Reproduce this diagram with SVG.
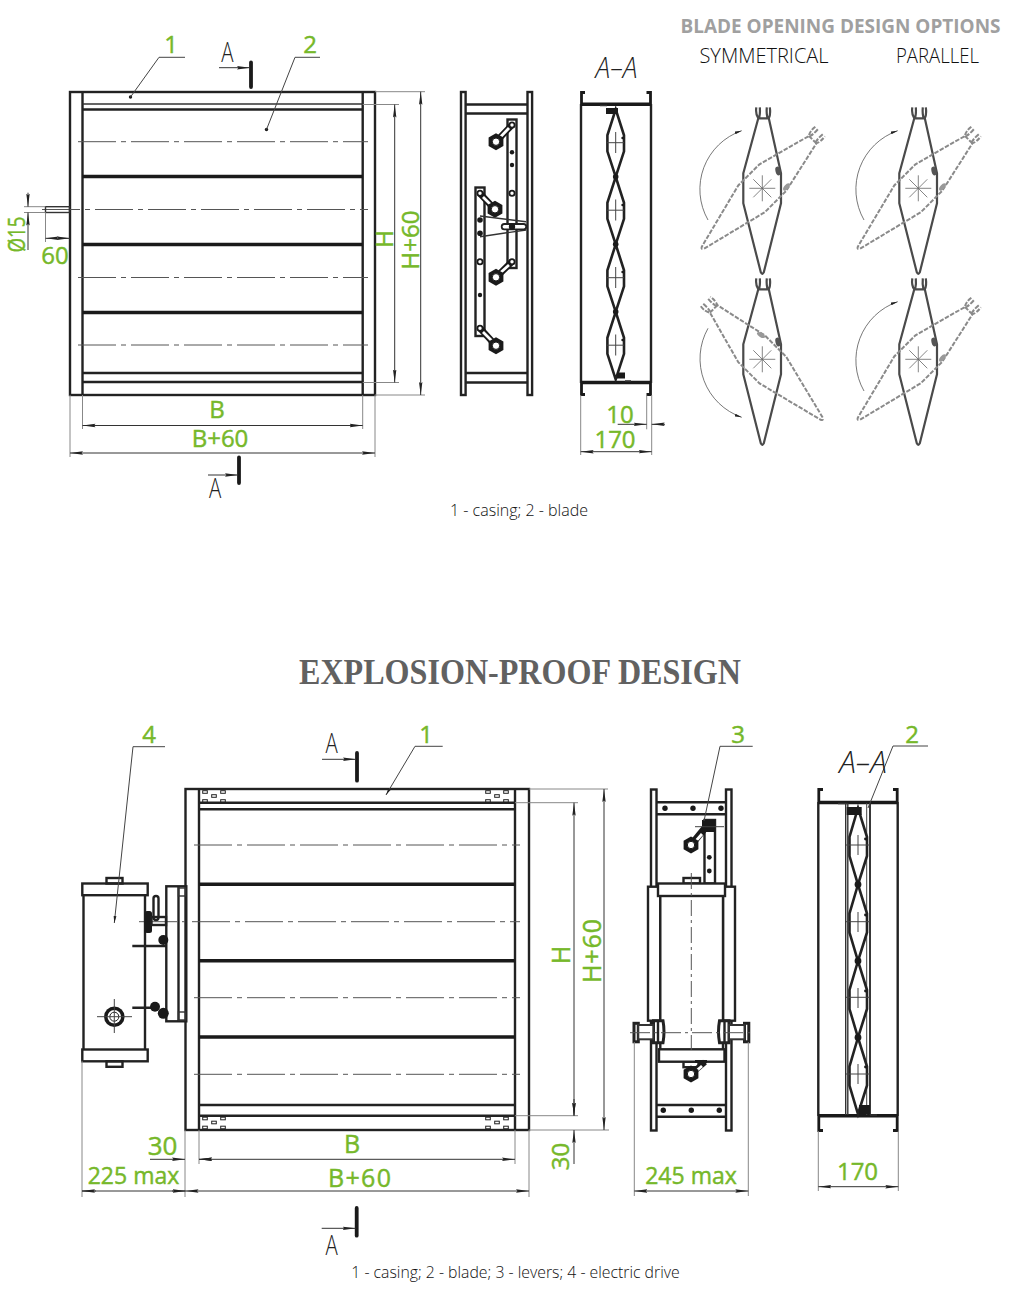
<svg xmlns="http://www.w3.org/2000/svg" width="1011" height="1297" viewBox="0 0 1011 1297">
<style>
text{font-family:"Open Sans","Noto Sans",sans-serif}
.g{fill:#76b82a;stroke:#76b82a;stroke-width:.45;font-size:24px;text-anchor:middle}
.sec{fill:#222;font-size:30px;font-weight:300;text-anchor:middle}
.cap{fill:#111;font-size:15.8px;font-weight:300;text-anchor:middle}
.hd{fill:#111;font-size:20px;font-weight:300;text-anchor:middle}
.k,.k2,.k3,.t,.d,.c,.cl{fill:none;stroke-linecap:butt}
.k{stroke:#222;stroke-width:2.4}
.k2{stroke:#1a1a1a;stroke-width:3.6}
.k3{stroke:#333;stroke-width:1.4}
.t{stroke:#444;stroke-width:1}
.d{stroke:#333;stroke-width:1}
.e{stroke:#888;stroke-width:1;fill:none}
.cl{stroke:#555;stroke-width:1;stroke-dasharray:38 5 5 5}
.f{fill:#1a1a1a;stroke:none}
.w{fill:#fff;stroke:#1a1a1a;stroke-width:1.8}
.bl{fill:none;stroke:#4a4a4a;stroke-width:2.2;stroke-linejoin:round}
.bd{fill:none;stroke:#8a8a8a;stroke-width:2;stroke-dasharray:4.5 1.5}
.ar{fill:none;stroke:#555;stroke-width:.8;marker-end:url(#sm)}
.bar{stroke:#1a1a1a;stroke-width:3.8;stroke-linecap:round;fill:none}
.both{marker-start:url(#ah);marker-end:url(#ah)}
.end{marker-end:url(#ah)}
.arm{stroke:#1a1a1a;stroke-width:6.500;fill:none}
.armw{stroke:#fff;stroke-width:2.800;fill:none}
.lb{fill:#fff;stroke:#1a1a1a;stroke-width:2.600;stroke-linejoin:round}
.wf{fill:#fff}
</style>
<defs>
<marker id="ah" markerUnits="userSpaceOnUse" markerWidth="14" markerHeight="5" refX="13" refY="2.5" orient="auto-start-reverse"><path d="M0,.8 L13,2.5 L0,4.2 L1.500,2.5Z" fill="#222"/></marker>
<marker id="sm" markerUnits="userSpaceOnUse" markerWidth="8" markerHeight="4" refX="7" refY="2" orient="auto"><path d="M0,.6 L7,2 L0,3.4Z" fill="#222"/></marker>
<path id="blade" d="M-6,-81 Q-7,-74 -4,-70 L-19,-15 L-19,15 L-1.500,84 Q0,87 1.500,84 L18.700,15 L18.700,-15 L6.500,-70 Q8.500,-74 7.500,-81 M4.500,-81 Q4,-75 5,-71 M-2.500,-81 Q-2,-75 -3,-71 M-4,-70 L6.500,-70"/>
<g id="star"><path d="M-13,0H13M0,-13V13M-9,-9L9,9M-9,9L9,-9" stroke="#666" stroke-width=".8"/></g>
<path id="lobe" d="M0,0 L-8.300,26 V42 L0,67.500 L8.300,42 V26Z"/>
<path id="lobe2" d="M0,0 L-8.500,29 V48 L0,76.500 L9,48 V29Z"/>
<g id="hex"><polygon points="0,-8.500 7.400,-4.300 7.400,4.300 0,8.500 -7.400,4.300 -7.400,-4.300" fill="#1a1a1a"/><circle r="3.700" fill="#fff" stroke="#1a1a1a"/></g>
<g id="rv"><rect x="-2.300" y="-1.300" width="4.600" height="2.600" fill="none" stroke="#222" stroke-width="1"/></g>
<g id="rivets"><use href="#rv" x="0" y="0"/><use href="#rv" x="18" y="0"/><use href="#rv" x="9" y="4"/><use href="#rv" x="0" y="9"/><use href="#rv" x="18" y="9"/></g>
</defs>
<rect width="1011" height="1297" fill="#fff"/>

<g id="casing-top">
<rect class="k" x="70" y="92" width="305" height="303"/>
<path class="k" d="M82.500,92V395M362.700,92V395"/>
<path class="k3" d="M82.500,104H362.700"/>
<path class="k" d="M82.500,109.500H362.700"/>
<path class="k2" d="M82.500,176.500H362.700M82.500,244.500H362.700M82.500,312.500H362.700"/>
<path class="k" d="M82.500,373H362.700"/>
<path class="k" d="M82.500,382H362.700"/>
<path class="cl" d="M78,141.700H368M42,209.500H368M78,277.500H368M78,345H368"/>
<rect class="k3" x="45.500" y="206.700" width="24" height="5.800"/>
<circle class="f" cx="130.500" cy="97" r="1.700"/>
<circle class="f" cx="266.500" cy="129.500" r="1.700"/>
</g>

<g id="lever-view-top">
<rect class="k" x="461" y="92" width="4.600" height="303"/>
<rect class="k" x="527.500" y="92" width="4.600" height="303"/>
<path class="k" d="M465.600,104.500H527.500M465.600,113.500H527.500M465.600,373H527.500M465.600,382.500H527.500"/>
<rect class="k" x="507.500" y="119.500" width="9" height="148.500"/>
<rect class="k" x="475.500" y="187.500" width="9" height="148.500"/>
<path class="arm" d="M512,125L496,141.700M480,193.500L495,209.500M512,261.700L496,277.300M480,328.300L496,345.700"/>
<path class="armw" d="M509,128L499,138.500M483,197L492,206M509,265L499,274M483,332L493,342"/>
<use href="#hex" x="496" y="141.700"/><use href="#hex" x="495" y="209.300"/><use href="#hex" x="496" y="277.300"/><use href="#hex" x="496" y="345.700"/>
<g class="w"><circle cx="512" cy="125" r="2.600"/><circle cx="512" cy="193.300" r="2.600"/><circle cx="512" cy="261.700" r="2.600"/><circle cx="480" cy="193.300" r="2.600"/><circle cx="480" cy="261.700" r="2.600"/><circle cx="480" cy="328.300" r="2.600"/></g>
<g class="f"><circle cx="512" cy="152.300" r="2.200"/><circle cx="512" cy="165" r="2.200"/><circle cx="480" cy="295" r="2.200"/><circle cx="480" cy="220" r="2.800"/><circle cx="480" cy="233.300" r="2.800"/></g>
<path class="k3" d="M480,216L526,221.700M480,236.700L526,230"/>
<rect class="k" x="501.700" y="224" width="24.500" height="5.300" rx="2.600" style="fill:#fff;stroke-width:1.800"/>
<circle class="f" cx="512" cy="226.700" r="3.200"/>
</g>

<g id="section-top">
<path class="k" d="M581,104V383M651,104V383"/>
<path class="k2" d="M581,104.300H651M581,382.500H651"/>
<path class="k2" d="M585,92.500H581.500V104M646.500,92.500H650.500V104M585,394.500H581.500V383M646.500,394.500H650.500V383" style="stroke-width:2.800"/>
<g class="k" style="stroke-width:2.600"><use href="#lobe" x="615.700" y="109.300"/><use href="#lobe" x="615.700" y="176.800"/><use href="#lobe" x="615.700" y="244.300"/><use href="#lobe" x="615.700" y="311.800"/></g>
<path class="t" d="M607,142.700H624M615.700,132V153M607,210.200H624M615.700,199.500V220.500M607,277.700H624M615.700,267V288M607,345.200H624M615.700,334.500V355.500"/>
<rect class="f" x="606" y="108" width="12" height="6"/>
<rect class="f" x="617" y="372.500" width="8" height="6"/>
<path class="k3" d="M600,105.500H607M625,381H631"/>
<circle class="f" cx="615.700" cy="176.800" r="2.800"/><circle class="f" cx="615.700" cy="244.300" r="2.800"/><circle class="f" cx="615.700" cy="311.800" r="2.800"/>
<circle class="f" cx="622.500" cy="138" r="1.200"/><circle class="f" cx="622.500" cy="205" r="1.200"/><circle class="f" cx="622.500" cy="272" r="1.200"/><circle class="f" cx="622.500" cy="340" r="1.200"/>
</g>

<g id="option-symmetrical-1">
<use class="bl" href="#blade" x="762.300" y="188.300"/>
<use class="bd" href="#blade" transform="translate(762.300,188.300) rotate(45)"/>
<use href="#star" x="762.300" y="188.300"/>
<ellipse cx="778" cy="171" rx="2.500" ry="4.500" fill="#555" transform="rotate(-15 778 171)"/>
<ellipse cx="786.500" cy="187" rx="2.200" ry="4.500" fill="#999" transform="rotate(40 786.500 187)"/>
<path class="ar" d="M708,220A62,62 0 0 1 741.700,130.700"/>
</g>
<g id="option-parallel-1">
<use class="bl" href="#blade" x="918.300" y="188.300"/>
<use class="bd" href="#blade" transform="translate(918.300,188.300) rotate(45)"/>
<use href="#star" x="918.300" y="188.300"/>
<ellipse cx="934" cy="171" rx="2.500" ry="4.500" fill="#555" transform="rotate(-15 934 171)"/>
<ellipse cx="942.500" cy="187" rx="2.200" ry="4.500" fill="#999" transform="rotate(40 942.500 187)"/>
<path class="ar" d="M864,220A62,62 0 0 1 897.700,130.700"/>
</g>
<g id="option-symmetrical-2">
<use class="bl" href="#blade" x="762.300" y="359.300"/>
<use class="bd" href="#blade" transform="translate(762.300,359.300) rotate(-45)"/>
<use href="#star" x="762.300" y="359.300"/>
<ellipse cx="778" cy="342" rx="2.500" ry="4.500" fill="#555" transform="rotate(-15 778 342)"/>
<ellipse cx="761" cy="335" rx="2.200" ry="4.500" fill="#999" transform="rotate(-60 761 335)"/>
<path class="ar" d="M708,328.300A62,62 0 0 0 741.700,417.300"/>
</g>
<g id="option-parallel-2">
<use class="bl" href="#blade" x="918.300" y="359.300"/>
<use class="bd" href="#blade" transform="translate(918.300,359.300) rotate(45)"/>
<use href="#star" x="918.300" y="359.300"/>
<ellipse cx="934" cy="342" rx="2.500" ry="4.500" fill="#555" transform="rotate(-15 934 342)"/>
<ellipse cx="942.500" cy="358" rx="2.200" ry="4.500" fill="#999" transform="rotate(40 942.500 358)"/>
<path class="ar" d="M864,391A62,62 0 0 1 897.700,301.700"/>
</g>

<g id="casing-explosion-proof">
<rect class="k" x="185.500" y="789" width="343.500" height="341"/>
<path class="k" d="M199,789V1130M515,789V1130"/>
<path class="k" d="M199,802.700H515M199,809.300H515"/>
<path class="k2" d="M199,884.200H515M199,960.700H515M199,1037H515"/>
<path class="k" d="M199,1105H515M199,1115.700H515"/>
<path class="cl" d="M194,845H520M139,921.700H520M194,997.700H520M194,1074.300H520"/>
<use href="#rivets" x="205" y="792"/><use href="#rivets" x="488" y="792"/><use href="#rivets" x="205" y="1118.500"/><use href="#rivets" x="488" y="1118.500"/>
</g>

<g id="electric-drive-front">
<rect class="k" x="82.300" y="883.500" width="65.400" height="11.700"/>
<rect class="k" x="82.300" y="1049.500" width="65.400" height="11.800"/>
<path class="k" d="M83.500,895.200V1049.500M145,895.200V1049.500"/>
<rect class="k" x="106.500" y="878" width="16" height="5.500"/>
<rect class="k" x="106.500" y="1061.300" width="16" height="5.500"/>
<rect class="k" x="166.300" y="886.300" width="20" height="135"/>
<path class="k" d="M178.500,886.300V1021.300"/>
<rect class="k3" x="178.500" y="888" width="7" height="8"/><rect class="k3" x="178.500" y="1012" width="7" height="8"/>
<rect class="k" x="153.500" y="896" width="5" height="24" rx="2.500"/>
<rect class="f" x="144.500" y="911" width="7.500" height="22" rx="2.500"/>
<rect class="k" x="151.500" y="917" width="14.500" height="8"/>
<path class="k" d="M132.300,946H166M132.300,1007.700H155"/>
<circle class="f" cx="163.300" cy="940" r="5"/><circle class="f" cx="155" cy="1006.700" r="5"/><circle class="f" cx="163.300" cy="1013.300" r="5.500"/>
<circle class="f" cx="114.300" cy="1016.700" r="10.300"/><circle cx="114.300" cy="1016.700" r="6.800" fill="#fff"/><circle cx="114.300" cy="1016.700" r="4.500" fill="none" stroke="#222"/>
<path class="t" d="M97,1016.700H132M114.300,999V1033"/>
</g>

<g id="electric-drive-side">
<rect class="k" x="651" y="789.500" width="5.500" height="341"/>
<rect class="k" x="726" y="789.500" width="5.500" height="341"/>
<path class="k" d="M657,802.300H726M657,814.300H726M657,1105H726M657,1116.700H726"/>
<g class="f"><circle cx="665" cy="808.300" r="2.700"/><circle cx="693" cy="808.300" r="2.700"/><circle cx="721" cy="808.300" r="2.700"/><circle cx="663.300" cy="1110.300" r="2.700"/><circle cx="691.300" cy="1110.300" r="2.700"/><circle cx="719.300" cy="1110.300" r="2.700"/></g>
<rect class="k" x="704.500" y="820" width="10.500" height="63.500"/>
<rect class="f" x="702" y="820" width="13" height="12"/>
<path class="arm" d="M705,828L691,845" style="stroke-width:7"/><path class="armw" d="M702,834L695,842"/>
<use href="#hex" x="691" y="845"/>
<circle class="f" cx="709.300" cy="857.300" r="2.400"/><circle class="f" cx="709.300" cy="871" r="2.400"/>
<path class="t" d="M695,826.700H724"/>
<rect class="k" x="683.500" y="878" width="16.500" height="5.500"/>
<rect class="k" x="683.500" y="1061.700" width="15" height="5.500"/>
<rect class="k" x="648" y="886.700" width="12.300" height="134" style="fill:#fff"/>
<rect class="k" x="723" y="886.700" width="12" height="134" style="fill:#fff"/>
<rect x="660.300" y="896" width="62.700" height="153.300" fill="#fff"/>
<path class="k" d="M660.300,896V1049.300M723,896V1049.300"/>
<rect class="k" x="658" y="883.500" width="67" height="12.500" style="fill:#fff"/>
<rect class="k" x="659" y="1049.300" width="65.500" height="12.400" style="fill:#fff"/>
<path class="arm" d="M705,1062L691,1074" style="stroke-width:6"/><path class="armw" d="M702,1066L695,1072"/>
<rect class="f" x="695" y="1060" width="12" height="3"/>
<use href="#hex" x="691" y="1074"/>
<path class="cl" d="M691.300,873V1050" style="stroke-dasharray:16 4 3 4"/>
<path class="k" d="M653.500,1020.700H663Q665,1031.700 663,1042.700H653.500Z" style="fill:#fff;stroke-width:3"/><path class="k" d="M729,1020.700H719.500Q717.500,1031.700 719.500,1042.700H729Z" style="fill:#fff;stroke-width:3"/>
<path class="k" d="M658,1021V1043M724.500,1021V1043"/>
<rect class="k" x="634" y="1023.300" width="4.300" height="18.500" style="stroke-width:3"/><rect class="k3" x="638.300" y="1025" width="15" height="14.300" style="fill:#fff;stroke-width:2"/>
<rect class="k" x="744.500" y="1023.300" width="4.300" height="18.500" style="stroke-width:3"/><rect class="k3" x="729" y="1025" width="15.500" height="14.300" style="fill:#fff;stroke-width:2"/>
<path class="cl" d="M630,1032.700H752" style="stroke-dasharray:20 4 3 4"/>
</g>

<g id="section-explosion-proof">
<path class="k" d="M818.300,802V1116M897.700,802V1116"/>
<path class="k2" d="M818.300,802.500H897.700M818.300,1115.700H897.700"/>
<path class="k2" d="M823,789.500H818.800V802M893,789.500H897.200V802M823,1130.500H818.800V1116M893,1130.500H897.200V1116" style="stroke-width:2.800"/>
<path class="k3" d="M845.700,803V1115M847.800,803V1115"/>
<path class="k" d="M870,803V1115" style="stroke-width:1.800"/>
<path class="t" d="M866.700,803V1115"/>
<g class="k" style="stroke-width:2.600"><use href="#lobe2" x="858" y="808"/><use href="#lobe2" x="858" y="884.500"/><use href="#lobe2" x="858" y="961"/><use href="#lobe2" x="858" y="1037.500"/></g>
<path class="t" d="M846,845H870M846,921.700H870M846,997.300H870M846,1074H870M858,835V855M858,912V932M858,988V1008M858,1064V1084"/>
<rect class="f" x="846.700" y="807" width="15" height="8"/><rect class="f" x="859" y="1105" width="11" height="9"/>
<path class="k3" d="M838,803.500H847M870,1115H877"/>
<circle class="f" cx="858" cy="884.500" r="3.400"/><circle class="f" cx="858" cy="961" r="3.400"/><circle class="f" cx="858" cy="1037.500" r="3.400"/>
<circle class="f" cx="865.500" cy="839" r="1.400"/><circle class="f" cx="865.500" cy="915" r="1.400"/><circle class="f" cx="865.500" cy="991" r="1.400"/><circle class="f" cx="865.500" cy="1067" r="1.400"/>
</g>

<g id="connectors">
<path class="t" d="M185,57.300H159L130.500,97"/>
<path class="t" d="M320,57.300H295L266.500,129.500"/>
<path class="t" d="M442.700,746.300H415L386,795" style="marker-end:url(#sm)"/>
<path class="t" d="M165,746.700H133L114.300,923" style="marker-end:url(#sm)"/>
<path class="t" d="M752.700,746.300H720L704,821"/>
<path class="t" d="M928,746H893L868,808"/>

<path class="e" d="M375,91.700H425M362.700,104.500H399M362.700,382.500H399M375,395H425"/>
<path class="d both" d="M394.700,104.500V382.500"/>
<path class="d both" d="M420.700,91.700V395"/>
<path class="e" d="M82.500,395V429M362.700,395V429M70,395V457M375,395V457"/>
<path class="d both" d="M82.500,425.500H362.700"/>
<path class="d both" d="M70,453H375"/>
<path class="e" d="M24,206.700H45.500M24,212.500H45.500M45.500,212.500V242"/>
<path class="d end" d="M28,192.700V206.700"/>
<path class="d end" d="M28,250V212.500"/>
<path class="d both" d="M45.500,238.300H70"/>
<path class="e" d="M580.700,395V455M651.700,395V455M646.700,395V429.300"/>
<path class="d both" d="M580.700,451.700H651.700"/>
<path class="d end" d="M617.700,424.300H646.700"/><path class="d end" d="M665,424.300H651.700"/>

<path class="bar" d="M251,62.500V87"/>
<path class="d end" d="M219,67.700H250"/>
<path class="bar" d="M239,457.500V483"/>
<path class="d end" d="M208,475H238"/>
<path class="bar" d="M357,753V780.700"/>
<path class="d end" d="M322,759.300H356"/>
<path class="bar" d="M356.700,1208V1235.700"/>
<path class="d end" d="M321.700,1228.300H355.700"/>

<path class="e" d="M529,789H608M515,802.700H578M515,1115.700H578M529,1130H609"/>
<path class="d both" d="M574,802.700V1115.700"/>
<path class="d both" d="M604,789V1130"/>
<path class="d end" d="M574,1099V1115.700"/>
<path class="d end" d="M574,1164V1130"/>
<path class="e" d="M82,1061V1197M185,1130V1197M199,1130V1164M515,1130V1164M529,1130V1197"/>
<path class="d both" d="M199,1159.300H515"/>
<path class="d end" d="M150,1159.300H185"/><path class="d end" d="M211.700,1159.300H199"/>
<path class="d both" d="M185.500,1191H529"/>
<path class="d" d="M82,1191H185.500"/><path class="d end" d="M96,1191H82"/><path class="d end" d="M172,1191H185.500"/>
<path class="e" d="M634.300,1042V1196M748.300,1042V1196"/>
<path class="d both" d="M634.300,1191H748.300"/>
<path class="e" d="M818.300,1131V1191M898.300,1131V1191"/>
<path class="d both" d="M818.300,1186.700H898.300"/>
</g>

<g id="labels">
<text class="g" x="171" y="53">1</text>
<text class="g" x="310" y="53">2</text>
<text class="g" x="217" y="418">B</text>
<text class="g" x="220" y="447">B+60</text>
<text class="g" x="55" y="264">60</text>
<text class="g" transform="translate(25,234.500) rotate(-90)" textLength="36" lengthAdjust="spacingAndGlyphs">Ø15</text>
<text class="g" transform="translate(393,239) rotate(-90)">H</text>
<text class="g" transform="translate(419,240) rotate(-90)">H+60</text>
<text class="g" x="620" y="422.700">10</text>
<text class="g" x="615" y="448">170</text>
<text class="g" x="426" y="743">1</text>
<text class="g" x="149" y="743">4</text>
<text class="g" x="738" y="743">3</text>
<text class="g" x="912" y="743">2</text>
<text class="g" x="352" y="1153.300" style="font-size:25px">B</text>
<text class="g" x="359.500" y="1186.700" style="font-size:25px" textLength="63" lengthAdjust="spacing">B+60</text>
<text class="g" x="162.500" y="1155" style="font-size:26px">30</text>
<text class="g" x="133.500" y="1184" style="font-size:23px">225 max</text>
<text class="g" x="691" y="1184" style="font-size:23px">245 max</text>
<text class="g" x="857.500" y="1180">170</text>
<text class="g" transform="translate(570,955) rotate(-90)" style="font-size:25px">H</text>
<text class="g" transform="translate(601,951) rotate(-90)" style="font-size:25px" textLength="64" lengthAdjust="spacing">H+60</text>
<text class="g" transform="translate(569,1156.500) rotate(-90)">30</text>
<text class="sec" transform="translate(227.300,62) scale(.68,.92)">A</text>
<text class="sec" transform="translate(215,498) scale(.68,.92)">A</text>
<text class="sec" transform="translate(331.500,753) scale(.68,.92)">A</text>
<text class="sec" transform="translate(331.500,1254.700) scale(.68,.92)">A</text>
<text class="sec" transform="translate(616.500,78) scale(.88,1)" font-style="italic">A–A</text>
<text class="sec" transform="translate(863,773) scale(1,1.050)" font-style="italic">A–A</text>
<text x="840.500" y="33" style="fill:#a0a0a0;font-size:19px;font-weight:700;text-anchor:middle" textLength="320" lengthAdjust="spacingAndGlyphs">BLADE OPENING DESIGN OPTIONS</text>
<text class="hd" x="764" y="63">SYMMETRICAL</text>
<text class="hd" x="937.500" y="63" textLength="83" lengthAdjust="spacingAndGlyphs">PARALLEL</text>
<text class="cap" x="519" y="516" style="font-size:16px">1 - casing; 2 - blade</text>
<text x="520" y="684" style="fill:#616161;font-family:'Liberation Serif',serif;font-size:35px;font-weight:700;text-anchor:middle" textLength="442" lengthAdjust="spacingAndGlyphs">EXPLOSION-PROOF DESIGN</text>
<text class="cap" x="515.500" y="1278">1 - casing; 2 - blade; 3 - levers; 4 - electric drive</text>
</g>
</svg>
